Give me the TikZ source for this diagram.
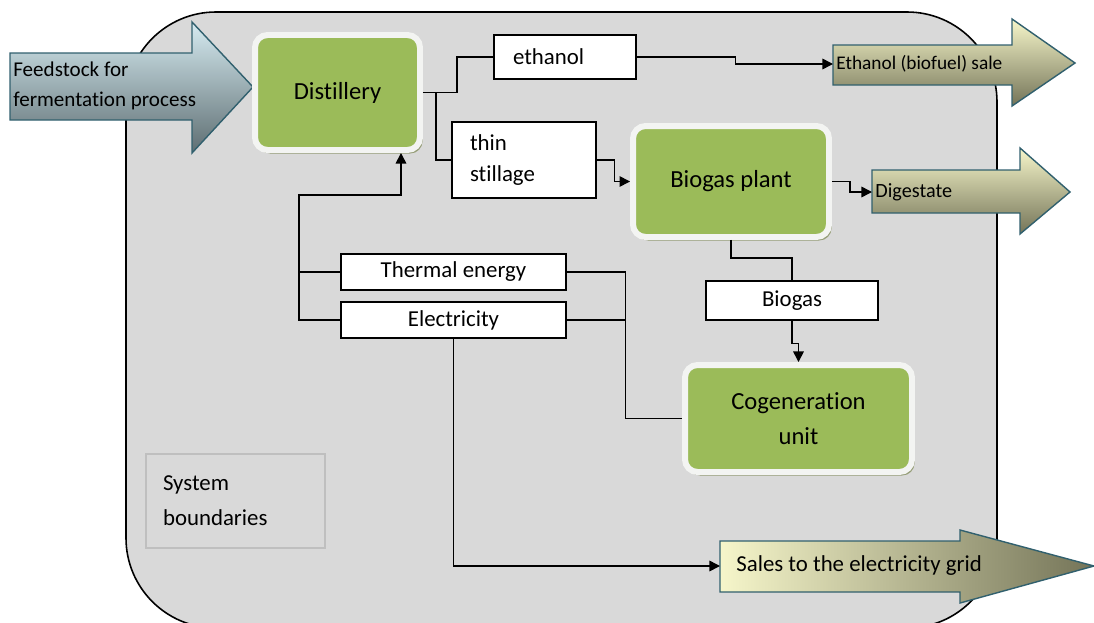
\documentclass[tikz,border=0pt]{standalone}
\usepackage{fontspec}
\setmainfont[Ligatures=NoCommon]{Carlito}
\usetikzlibrary{arrows.meta, shadows}
\definecolor{bound}{RGB}{217,217,217}
\definecolor{leaf}{RGB}{155,187,89}
\definecolor{rim}{RGB}{243,244,242}
\definecolor{shade}{RGB}{150,158,120}
\definecolor{arrowedge}{RGB}{49,96,110}
\definecolor{skytop}{RGB}{214,235,241}
\definecolor{skybot}{RGB}{94,110,114}
\definecolor{straw}{RGB}{246,246,202}
\definecolor{olivedark}{RGB}{116,116,88}
\definecolor{frame}{RGB}{191,191,191}
\tikzset{
  unit/.style = {rectangle, rounded corners=0.25cm, fill=leaf, draw=rim,
    line width=3.4pt, align=center, font=\fontsize{14}{20}\selectfont,
    drop shadow={shadow xshift=1.5pt, shadow yshift=-2pt, fill=shade, opacity=1}},
  flowbox/.style = {rectangle, draw, fill=white, line width=0.8pt,
    inner ysep=0pt, font=\fontsize{13}{18}\selectfont},
  link/.style = {line width=0.85pt},
  feed/.style = {link, -{Triangle[length=6pt, width=6pt]}},
  bigarrow/.style = {draw=arrowedge, line width=0.8pt},
  tag/.style = {anchor=west, inner ysep=0pt, inner xsep=0.06cm, align=left}
}

\begin{document}
\begin{tikzpicture}[x=0.02cm, y=-0.02cm]
    \useasboundingbox (0,0) rectangle (1094,622);
    % system boundary
    \draw[fill=bound, line width=0.9pt, rounded corners=1.8cm] (126,12) rectangle (997,628);
    \node[draw=frame, fill=bound, line width=1pt, minimum height=1.88cm, text width=2.9cm,
      inner xsep=0.34cm, align=left, font=\fontsize{13}{20}\selectfont] (sysb) at (235.5,501) {System\\boundaries};

    % block arrows
    \draw[bigarrow, top color=skytop, bottom color=skybot]
      (10,53) -- (192,53) -- (192,22) -- (253,87) -- (192,153) -- (192,120) -- (10,120) -- cycle;
    \draw[bigarrow, top color=straw, bottom color=olivedark]
      (833,45) -- (1012,45) -- (1012,19) -- (1075,63) -- (1012,106) -- (1012,85) -- (833,85) -- cycle;
    \draw[bigarrow, top color=straw, bottom color=olivedark]
      (872,170) -- (1020,170) -- (1020,148) -- (1070,192) -- (1020,234) -- (1020,213) -- (872,213) -- cycle;
    \draw[bigarrow, left color=straw, right color=olivedark]
      (720,541) -- (960,541) -- (960,530) -- (1094,566) -- (960,603) -- (960,592) -- (720,592) -- cycle;

    \node[tag, font=\fontsize{12}{17}\selectfont] (feedtxt) at (10,86) {Feedstock for\\fermentation process};
    \node[tag, font=\fontsize{11}{13}\selectfont] (ethsale) at (833,64) {Ethanol (biofuel) sale};
    \node[tag, font=\fontsize{11.5}{13}\selectfont] (dig) at (872,192) {Digestate};
    \node[tag, inner xsep=0.32cm, font=\fontsize{13}{15}\selectfont] (grid) at (720,566) {Sales to the electricity grid};

    % process units
    \node[unit, minimum width=3.3cm, minimum height=2.3cm] (dist) at (337.5,92.5) {Distillery};
    \node[unit, minimum width=3.92cm, minimum height=2.22cm] (plant) at (731,181.5) {Biogas plant};
    \node[unit, minimum width=4.54cm, minimum height=2.14cm] (cogen) at (798.5,418.5) {Cogeneration\\unit};

    % streams
    \node[flowbox, minimum height=0.88cm, text width=2.08cm, inner xsep=0.38cm, align=left] (eth) at (565,57) {ethanol};
    \node[flowbox, minimum height=1.52cm, text width=2.16cm, inner xsep=0.36cm, align=left] (still) at (524,160) {thin\\stillage};
    \node[flowbox, minimum width=4.5cm, minimum height=0.72cm] (therm) at (453.5,272) {Thermal energy};
    \node[flowbox, minimum width=4.5cm, minimum height=0.72cm] (elec) at (453.5,320) {Electricity};
    \node[flowbox, minimum width=3.44cm, minimum height=0.78cm] (gas) at (792,300.5) {Biogas};

    % connectors
    \draw[link] (dist.east) -- ++(13,0) coordinate (split) -- ++(21,0) |- (eth.west);
    \draw[link] (split) |- (still.west);
    \draw[feed] (eth.east) -- ++(99,0) |- (ethsale.west);
    \draw[feed] (still.east) -- ++(18,0) |- (plant.west);
    \draw[feed] (plant.east) -- ++(18,0) |- (dig.west);
    \draw[link] (plant.south) -- ++(0,18) -| (gas.north);
    \draw[feed] (gas.south) -- ++(0,23) -| (cogen.north);
    \draw[link] (therm.east) -- ++(59,0) coordinate (join) |- (cogen.west);
    \draw[link] (elec.east) -- (elec.east -| join);
    \coordinate (ret) at (299,195);
    \draw[link] (therm.west) -- (therm.west -| ret);
    \draw[feed] (elec.west) -| (ret) -| ([xshift=1.27cm]dist.south);
    \draw[feed] (elec.south) |- (grid.west);
\end{tikzpicture}
\end{document}
